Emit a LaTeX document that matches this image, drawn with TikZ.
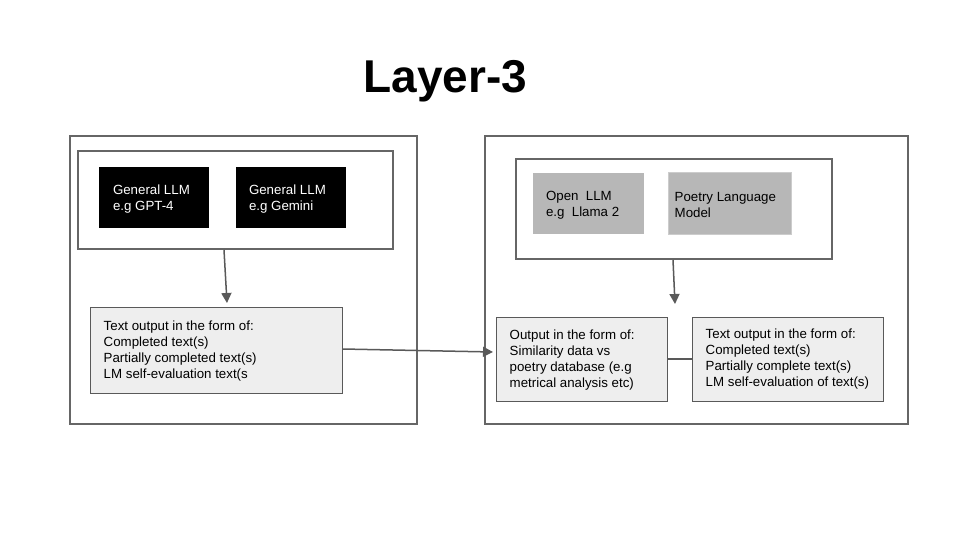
\documentclass[tikz,border=0pt]{standalone}
\usepackage{fontspec}
\setmainfont{Liberation Sans}
\usetikzlibrary{arrows.meta}
\definecolor{frame}{HTML}{666666}
\definecolor{edge}{HTML}{595959}
\definecolor{lightfill}{HTML}{EEEEEE}
\definecolor{midgray}{HTML}{B7B7B7}
\definecolor{lightedge}{HTML}{CCCCCC}
\tikzset{
  x=1pt, y=-1pt,
  container/.style={draw=frame, line width=2pt, rectangle, inner sep=0pt},
  txt/.style={font=\fontsize{13.3}{16}\selectfont, align=left, inner sep=0pt, anchor=west},
  blackbox/.style={fill=black, rectangle, inner sep=0pt},
  graybox/.style={fill=midgray, rectangle, inner sep=0pt},
  outbox/.style={fill=lightfill, draw=edge, line width=1pt, rectangle, inner sep=0pt},
  arr/.style={draw=edge, line width=1.5pt, -{Triangle[length=10pt,width=10pt]}},
  plain/.style={draw=edge, line width=1.5pt},
}
\begin{document}
\begin{tikzpicture}
\useasboundingbox (0,0) rectangle (960,540);
\fill[white] (0,0) rectangle (960,540);

\node[font=\fontsize{46}{50}\selectfont\bfseries, anchor=base] (title) at (445.5,93) {Layer-3};

% left side
\node[container, minimum width=347pt, minimum height=288pt] (outerL) at (243.5,280) {};
\node[container, minimum width=315pt, minimum height=98pt] (innerL) at (235.5,200) {};
\node[blackbox, minimum width=110pt, minimum height=61pt] (b1) at (154,197.5) {};
\node[txt, text=white] (b1t) at ([xshift=14pt,yshift=-1.5pt]b1.west) {General LLM\\e.g GPT-4};
\node[blackbox, minimum width=110pt, minimum height=61pt] (b2) at (291,197.5) {};
\node[txt, text=white] (b2t) at ([xshift=13pt,yshift=-1.5pt]b2.west) {General LLM\\e.g Gemini};
\node[outbox, minimum width=252pt, minimum height=86pt] (t1) at (216,350) {};
\node[txt] (t1t) at ([xshift=14pt,yshift=-1.5pt]t1.west)
  {Text output in the form of:\\Completed text(s)\\Partially completed text(s)\\LM self-evaluation text(s};

% right side
\node[container, minimum width=423pt, minimum height=288pt] (outerR) at (696.5,280) {};
\node[container, minimum width=316pt, minimum height=100pt] (innerR) at (674,209) {};
\node[graybox, minimum width=111pt, minimum height=61pt] (g1) at (588.5,203.5) {};
\node[txt] (g1t) at ([xshift=13pt,yshift=-1.5pt]g1.west) {Open~~LLM\\e.g~~Llama 2};
\node[graybox, draw=lightedge, line width=1pt, minimum width=123pt, minimum height=61pt] (g2) at (729.5,203.5) {};
\node[txt] (g2t) at ([xshift=7pt,yshift=-1.5pt]g2.west) {Poetry Language\\Model};
\node[outbox, minimum width=171pt, minimum height=84pt] (t3) at (581.5,359) {};
\node[txt] (t3t) at ([xshift=14pt,yshift=-1pt]t3.west)
  {Output in the form of:\\Similarity data vs\\poetry database (e.g\\metrical analysis etc)};
\node[outbox, minimum width=191pt, minimum height=84pt] (t4) at (787.5,359) {};
\node[txt] (t4t) at ([xshift=14pt]t4.west)
  {Text output in the form of:\\Completed text(s)\\Partially complete text(s)\\LM self-evaluation of text(s)};

% connectors
\coordinate (tipL) at (227,303);
\coordinate (tipR) at (675,304);
\coordinate (tipM) at (493,352);
\draw[arr] ([xshift=-11.5pt]innerL.south) -- (tipL);
\draw[arr] ([xshift=-1pt]innerR.south) -- (tipR);
\draw[arr] ([yshift=1pt]t1.east) -- (tipM);
\draw[plain] (t3.east) -- (t4.west);
\end{tikzpicture}
\end{document}
